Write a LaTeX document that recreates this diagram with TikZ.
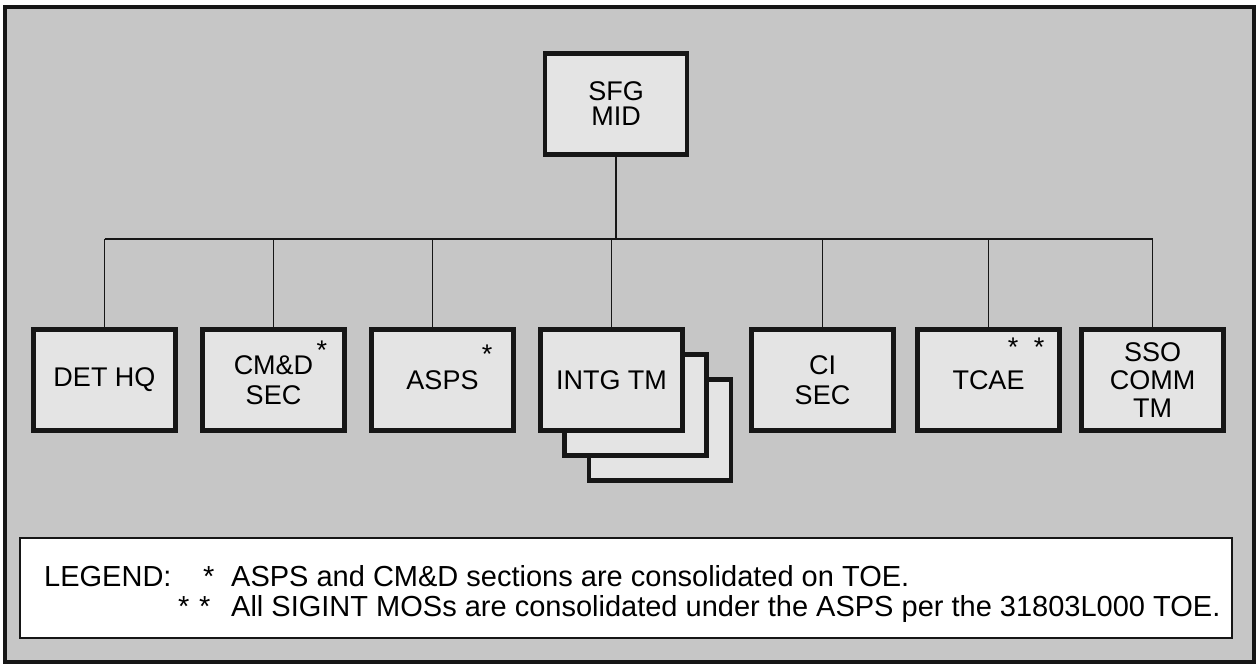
\documentclass[tikz,border=0pt]{standalone}
\usepackage{fontspec}
\setmainfont{Liberation Sans}
\usetikzlibrary{positioning}
\definecolor{midGround}{HTML}{C6C6C6}
\definecolor{midPanel} {HTML}{E4E4E4}
\definecolor{midInk}   {HTML}{161616}

\begin{document}
\begin{tikzpicture}[x=1pt,y=-1pt,
    unitbox/.style={draw=midInk,fill=midPanel,line width=4.5pt,
      minimum width=142pt,minimum height=101pt,inner sep=0pt,
      align=center,font=\fontsize{27}{30}\selectfont},
    feed/.style={draw=midInk,line width=1.6pt},
    starmark/.style={inner sep=0pt,font=\fontsize{27}{27}\selectfont},
    legline/.style={anchor=base west,inner sep=0pt,
      font=\fontsize{29}{29}\selectfont}]
  \useasboundingbox (0,0) rectangle (1259,668);
  % ground and frame
  \draw[fill=midGround,draw=midInk,line width=4pt] (5,7) rectangle (1254,662);

  % head
  \node[unitbox,font=\fontsize{27}{25}\selectfont] (sfg) at (616,104) {SFG\\MID};

  % sections
  \node[unitbox] (dethq) at (104.5,380) {DET HQ};
  \node[unitbox] (cmd)   at (273.5,380) {CM\&D\\SEC};
  \node[unitbox] (asps)  at (442.5,380) {ASPS};
  \node[unitbox] (intgc) at (660,430) {};
  \node[unitbox] (intgb) at (635.5,405) {};
  \node[unitbox] (intg)  at (611.5,380) {INTG TM};
  \node[unitbox] (cisec) at (822.5,380) {CI\\SEC};
  \node[unitbox] (tcae)  at (988.5,380) {TCAE};
  \node[unitbox,font=\fontsize{27}{28}\selectfont] (sso) at (1152.5,380) {SSO\\COMM\\TM};

  % asterisks
  \node[starmark] (cmdstar)   at (322,350) {*};
  \node[starmark] (aspsstar)  at (487,354) {*};
  \node[starmark] (tcaestarA) at (1013,347) {*};
  \node[starmark] (tcaestarB) at (1039,347) {*};

  % connectors
  \coordinate (busL) at (104.5,239);
  \coordinate (busR) at (1152.5,239);
  \draw[feed] (busL) -- (busR);
  \draw[feed] (sfg.south) -- (sfg.south |- busL);
  \draw[feed] (dethq.north) -- (dethq.north |- busL);
  \draw[feed] (cmd.north)   -- (cmd.north |- busL);
  \draw[feed] ([xshift=-10pt]asps.north) -- ([xshift=-10pt]asps.north |- busL);
  \draw[feed] (intg.north)  -- (intg.north |- busL);
  \draw[feed] (cisec.north) -- (cisec.north |- busL);
  \draw[feed] (tcae.north)  -- (tcae.north |- busL);
  \draw[feed] (sso.north)   -- (sso.north |- busL);

  % legend
  \draw[fill=white,draw=midInk,line width=1.5pt] (20,538) rectangle (1232,638);
  \node[legline] (legtitle) at (44,586) {LEGEND:};
  \node[legline] (legstarA) at (203,586) {*};
  \node[legline] (legnoteA) at (231,586) {ASPS and CM\&D sections are consolidated on TOE.};
  \node[legline] (legstarB) at (178,616) {*\,\,*};
  \node[legline] (legnoteB) at (231,616) {All SIGINT MOSs are consolidated under the ASPS per the 31803L000 TOE.};
\end{tikzpicture}
\end{document}
